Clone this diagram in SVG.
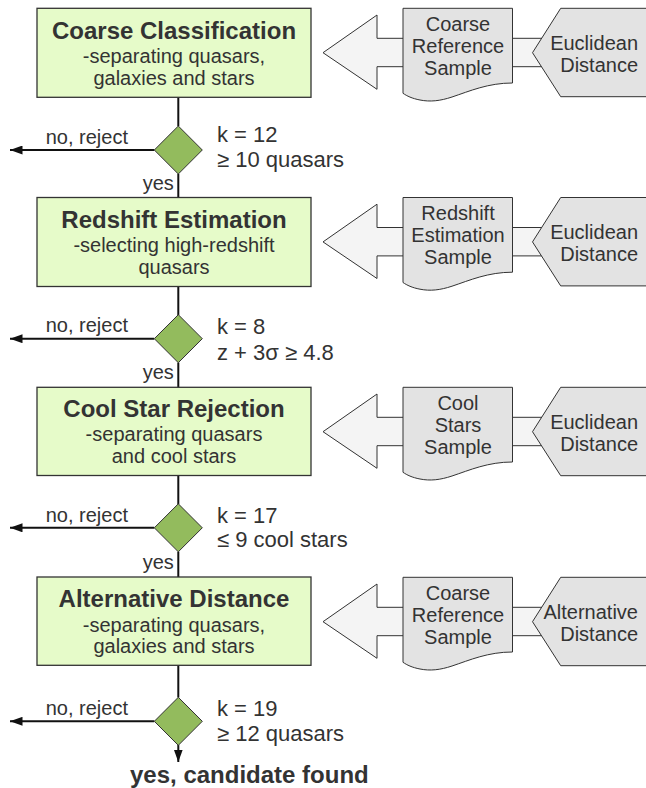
<svg xmlns="http://www.w3.org/2000/svg" width="646" height="788" viewBox="0 0 646 788">
<style>
text{font-family:"Liberation Sans",Arial,sans-serif;fill:#333;}
.title{font-size:24px;font-weight:bold;text-anchor:middle;}
.sub{font-size:20px;text-anchor:middle;}
.lbl{font-size:20px;}
.cond{font-size:22px;}
.box{fill:#e6fbc9;stroke:#333;stroke-width:1.3;}
.dia{fill:#93bb5d;stroke:#333;stroke-width:1;}
.arr{fill:#f4f4f4;stroke:#333;stroke-width:1;}
.doc{fill:#e3e3e3;stroke:#333;stroke-width:1;}
.pent{fill:#e3e3e3;stroke:#333;stroke-width:1;}
.dt{font-size:20px;text-anchor:middle;}
.pt{font-size:20px;text-anchor:end;}
.ln{fill:none;stroke:#111;stroke-width:2;}
</style>
<defs>
<marker id="ah" markerWidth="13" markerHeight="9" refX="12.5" refY="4.5" orient="auto" markerUnits="userSpaceOnUse">
<path d="M0,0 L12.5,4.5 L0,9 Z" fill="#111"/>
</marker>
</defs>

<g id="connectors">
<line class="ln" x1="178.3" y1="97.3" x2="178.3" y2="126"/>
<line class="ln" x1="178.3" y1="174" x2="178.3" y2="197.5"/>
<line class="ln" x1="154.3" y1="150" x2="10" y2="150" marker-end="url(#ah)"/>
<line class="ln" x1="178.3" y1="286.5" x2="178.3" y2="315"/>
<line class="ln" x1="178.3" y1="362.5" x2="178.3" y2="387.3"/>
<line class="ln" x1="154.3" y1="338.7" x2="10" y2="338.7" marker-end="url(#ah)"/>
<line class="ln" x1="178.3" y1="475.5" x2="178.3" y2="504"/>
<line class="ln" x1="178.3" y1="551.6" x2="178.3" y2="577"/>
<line class="ln" x1="154.3" y1="527.8" x2="10" y2="527.8" marker-end="url(#ah)"/>
<line class="ln" x1="178.3" y1="665.3" x2="178.3" y2="697.5"/>
<line class="ln" x1="178.3" y1="745" x2="178.3" y2="762" marker-end="url(#ah)"/>
<line class="ln" x1="154.3" y1="721.3" x2="10" y2="721.3" marker-end="url(#ah)"/>
<text class="lbl" x="45.7" y="143.5">no, reject</text>
<text class="lbl" x="45.7" y="332.4">no, reject</text>
<text class="lbl" x="45.7" y="521.5">no, reject</text>
<text class="lbl" x="45.7" y="715">no, reject</text>
<text class="lbl" x="142.7" y="190">yes</text>
<text class="lbl" x="142.7" y="379">yes</text>
<text class="lbl" x="142.7" y="569">yes</text>
</g>

<g id="box1">
<rect class="box" x="37" y="8.3" width="274" height="89"/>
<text class="title" x="174" y="39">Coarse Classification</text>
<text class="sub" x="174" y="62.5">-separating quasars,</text>
<text class="sub" x="174" y="84.5">galaxies and stars</text>
</g>
<g id="dia1">
<polygon class="dia" points="178.3,126 202.3,150 178.3,174 154.3,150"/>
<text class="cond" x="217" y="142">k = 12</text>
<text class="cond" x="217" y="166.5">≥ 10 quasars</text>
</g>

<g id="box2">
<rect class="box" x="37" y="197.5" width="274" height="89"/>
<text class="title" x="174" y="228">Redshift Estimation</text>
<text class="sub" x="174" y="251.5">-selecting high-redshift</text>
<text class="sub" x="174" y="273.5">quasars</text>
</g>
<g id="dia2">
<polygon class="dia" points="178.3,314.7 202.3,338.7 178.3,362.7 154.3,338.7"/>
<text class="cond" x="217" y="334.3">k = 8</text>
<text class="cond" x="217" y="360">z + 3σ ≥ 4.8</text>
</g>

<g id="box3">
<rect class="box" x="37" y="387.3" width="274" height="88.2"/>
<text class="title" x="174" y="417.3">Cool Star Rejection</text>
<text class="sub" x="174" y="440.5">-separating quasars</text>
<text class="sub" x="174" y="463.3">and cool stars</text>
</g>
<g id="dia3">
<polygon class="dia" points="178.3,503.8 202.3,527.8 178.3,551.8 154.3,527.8"/>
<text class="cond" x="217" y="523.3">k = 17</text>
<text class="cond" x="217" y="547.3">≤ 9 cool stars</text>
</g>

<g id="box4">
<rect class="box" x="37" y="577" width="274" height="88.3"/>
<text class="title" x="174" y="607">Alternative Distance</text>
<text class="sub" x="174" y="631.5">-separating quasars,</text>
<text class="sub" x="174" y="652.5">galaxies and stars</text>
</g>
<g id="dia4">
<polygon class="dia" points="178.3,697.3 202.3,721.3 178.3,745.3 154.3,721.3"/>
<text class="cond" x="217" y="715.7">k = 19</text>
<text class="cond" x="217" y="741">≥ 12 quasars</text>
</g>

<g id="result">
<text x="130" y="783" style="font-size:24px;font-weight:bold;">yes, candidate found</text>
</g>

<g id="input1">
<polygon class="arr" points="323,52.7 377,15 377,38.3 550,38.3 550,66.7 377,66.7 377,89.3"/>
<path class="doc" d="M403,8.3 H512.5 V83 C488,83 470,91 452,97 C440,101 430,102 420,100 C412,98.5 407,96 403,93.3 Z"/>
<polygon class="pent" points="560.7,8.3 660,8.3 660,96.7 560.7,96.7 532.5,52.7"/>
<text class="dt" x="458" y="30.5">Coarse</text>
<text class="dt" x="458" y="52.5">Reference</text>
<text class="dt" x="458" y="74.5">Sample</text>
<text class="pt" x="638" y="49.5">Euclidean</text>
<text class="pt" x="638" y="71.5">Distance</text>
</g>

<g id="input2" transform="translate(0,189.2)">
<polygon class="arr" points="323,52.7 377,15 377,38.3 550,38.3 550,66.7 377,66.7 377,89.3"/>
<path class="doc" d="M403,8.3 H512.5 V83 C488,83 470,91 452,97 C440,101 430,102 420,100 C412,98.5 407,96 403,93.3 Z"/>
<polygon class="pent" points="560.7,8.3 660,8.3 660,96.7 560.7,96.7 532.5,52.7"/>
<text class="dt" x="458" y="30.5">Redshift</text>
<text class="dt" x="458" y="52.5">Estimation</text>
<text class="dt" x="458" y="74.5">Sample</text>
<text class="pt" x="638" y="49.5">Euclidean</text>
<text class="pt" x="638" y="71.5">Distance</text>
</g>

<g id="input3" transform="translate(0,379)">
<polygon class="arr" points="323,52.7 377,15 377,38.3 550,38.3 550,66.7 377,66.7 377,89.3"/>
<path class="doc" d="M403,8.3 H512.5 V83 C488,83 470,91 452,97 C440,101 430,102 420,100 C412,98.5 407,96 403,93.3 Z"/>
<polygon class="pent" points="560.7,8.3 660,8.3 660,96.7 560.7,96.7 532.5,52.7"/>
<text class="dt" x="458" y="30.5">Cool</text>
<text class="dt" x="458" y="52.5">Stars</text>
<text class="dt" x="458" y="74.5">Sample</text>
<text class="pt" x="638" y="49.5">Euclidean</text>
<text class="pt" x="638" y="71.5">Distance</text>
</g>

<g id="input4" transform="translate(0,569)">
<polygon class="arr" points="323,52.7 377,15 377,38.3 550,38.3 550,66.7 377,66.7 377,89.3"/>
<path class="doc" d="M403,8.3 H512.5 V83 C488,83 470,91 452,97 C440,101 430,102 420,100 C412,98.5 407,96 403,93.3 Z"/>
<polygon class="pent" points="560.7,8.3 660,8.3 660,96.7 560.7,96.7 532.5,52.7"/>
<text class="dt" x="458" y="30.5">Coarse</text>
<text class="dt" x="458" y="52.5">Reference</text>
<text class="dt" x="458" y="74.5">Sample</text>
<text class="pt" x="638" y="49.5">Alternative</text>
<text class="pt" x="638" y="71.5">Distance</text>
</g>
</svg>
